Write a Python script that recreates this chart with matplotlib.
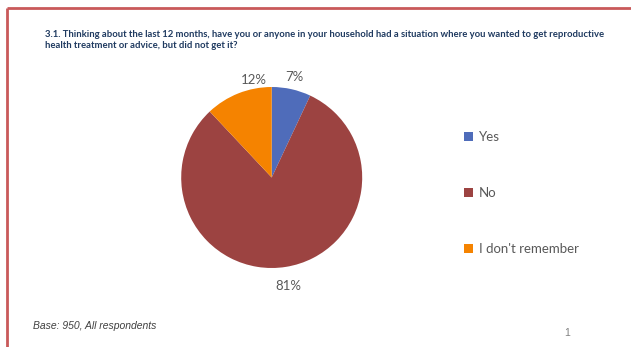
import matplotlib
matplotlib.use("Agg")
import matplotlib.pyplot as plt
from matplotlib.lines import Line2D

# Survey answers and shares (%)
categories = ["Yes", "No", "I don't remember"]
shares = [7, 81, 12]
colors = ["#4F6CBA", "#9C4341", "#F58300"]

title = ("3.1. Thinking about the last 12 months, have you or anyone in your household had a situation where you wanted to get reproductive\n"
         "health treatment or advice, but did not get it?")
footer = "Base: 950, All respondents"
page_no = "1"

W, H = 631, 347
fig = plt.figure(figsize=(W / 100, H / 100), dpi=100)
fig.patch.set_facecolor("white")

# Slide frame: top and left red rules
frame_kw = dict(color="#C9595A", lw=2.0, solid_capstyle="butt")
fig.add_artist(Line2D([7 / W, 1.0], [1 - 8 / H, 1 - 8 / H], transform=fig.transFigure, **frame_kw))
fig.add_artist(Line2D([7 / W, 7 / W], [1 - 8 / H, 0.0], transform=fig.transFigure, **frame_kw))

fig.text(45 / W, 1 - 30 / H, title, fontsize=6.8, fontweight="bold", color="#1F3A60",
         family=["Lato", "DejaVu Sans"], va="top", ha="left", linespacing=1.3)

# Pie area
cx, cy, r = 271.7, 177.5, 90.5
ax = fig.add_axes([(cx - r) / W, 1 - (cy + r) / H, 2 * r / W, 2 * r / H])
wedges, _, autotexts = ax.pie(
    shares, colors=colors, startangle=90, counterclock=False, radius=1.0,
    autopct=lambda p: f"{p:.0f}%", pctdistance=1.14,
    wedgeprops=dict(linewidth=0),
    textprops=dict(fontsize=9.5, color="#595959", family=["Lato", "DejaVu Sans"]),
)
ax.set_xlim(-1, 1)
ax.set_ylim(-1, 1)
ax.set_aspect("equal")
ax.axis("off")
# Label placement tweaks
autotexts[2].set_position((-0.2, 1.08))
autotexts[1].set_position((0.18, -1.2))

leg = fig.legend(wedges, categories, loc="upper left", bbox_to_anchor=(464 / W, 1 - 131 / H),
                 frameon=False, labelspacing=3.35, handlelength=0.65,
                 handleheight=0.65, handletextpad=0.45, borderpad=0, borderaxespad=0,
                 prop=dict(family=["Lato", "DejaVu Sans"], size=9.5))
for t in leg.get_texts():
    t.set_color("#595959")

fig.text(33 / W, 1 - 326 / H, footer, fontsize=7.5, style="italic", color="#404040",
         family=["Liberation Sans", "DejaVu Sans"], va="center", ha="left")
fig.text(567 / W, 1 - 333 / H, page_no, fontsize=7.5, color="#808080",
         family=["Liberation Sans", "DejaVu Sans"], va="center", ha="center")

fig.savefig("out.png", dpi=100)
